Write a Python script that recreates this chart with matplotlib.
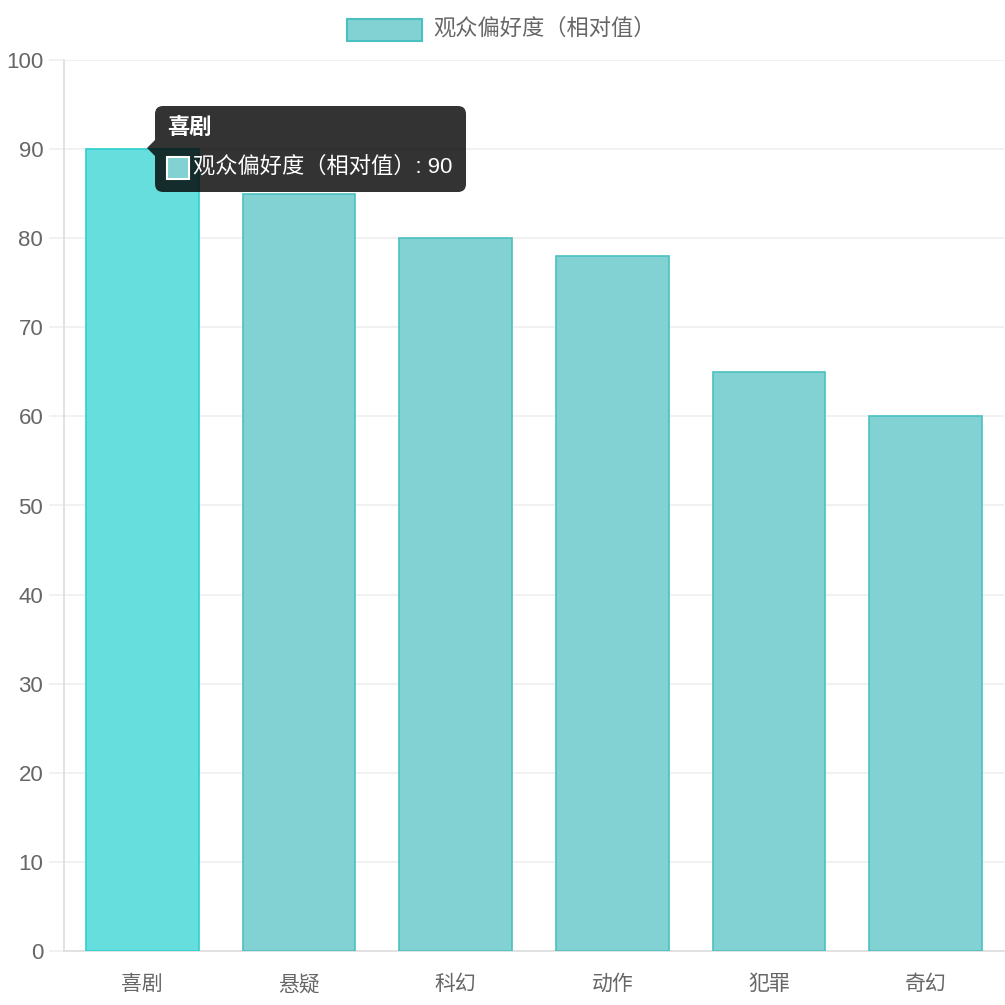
import matplotlib.pyplot as plt
from matplotlib.patches import FancyBboxPatch, Rectangle, Polygon

plt.rcParams['font.family'] = ['Liberation Sans', 'Noto Sans CJK SC', 'DejaVu Sans']

genres = ['喜剧', '悬疑', '科幻', '动作', '犯罪', '奇幻']
scores = [90, 85, 80, 78, 65, 60]
series_name = '观众偏好度（相对值）'
y_ticks = [0, 10, 20, 30, 40, 50, 60, 70, 80, 90, 100]

W = H = 1005


def fx(x):
    return x / W


def fy(y):
    return 1 - y / H


fig = plt.figure(figsize=(10.05, 10.05), dpi=100)
ax = fig.add_axes([fx(64), fy(951), (1004 - 64) / W, (951 - 60) / H])

colors = ['#66dede'] + ['#82d2d3'] * (len(genres) - 1)
edges = ['#2fcfcf'] + ['#4bc0c0'] * (len(genres) - 1)
ax.bar(range(len(genres)), scores, width=0.72, color=colors,
       edgecolor=edges, linewidth=1.2, zorder=3)

ax.set_xlim(-0.5, len(genres) - 0.5)
ax.set_ylim(0, 100)
ax.set_yticks(y_ticks)
ax.set_xticks(range(len(genres)))
ax.set_xticklabels(genres)
ax.yaxis.grid(True, color='#efefef', linewidth=1.2, zorder=0)
ax.tick_params(axis='y', length=11, color='#efefef', width=1.2,
               labelsize=16, labelcolor='#666666', pad=4)
ax.tick_params(axis='x', length=0, labelsize=15, labelcolor='#666666', pad=17)
for s in ['top', 'right']:
    ax.spines[s].set_visible(False)
for s in ['left', 'bottom']:
    ax.spines[s].set_color('#dddddd')
    ax.spines[s].set_linewidth(1.2)
ax.set_axisbelow(True)

# legend at the top
fig.add_artist(Rectangle((fx(347), fy(41)), 75 / W, 22 / H, transform=fig.transFigure,
                         facecolor='#82d2d3', edgecolor='#4bc0c0', linewidth=1.5))
fig.text(fx(433), fy(29), series_name, fontsize=16, color='#666666', va='center', ha='left')

# tooltip over the first bar
fig.add_artist(FancyBboxPatch((fx(155), fy(192)), (466 - 155) / W, (192 - 106) / H,
                              boxstyle='round,pad=0,rounding_size=0.008',
                              transform=fig.transFigure, facecolor=(0, 0, 0, 0.8),
                              edgecolor='none', zorder=10))
fig.add_artist(Polygon([(fx(155), fy(140)), (fx(147), fy(148)), (fx(155), fy(156))],
                       closed=True, transform=fig.transFigure,
                       facecolor=(0, 0, 0, 0.8), edgecolor='none', zorder=10))
fig.text(fx(167), fy(128), genres[0], fontsize=16, fontweight='bold', color='white',
         va='center', ha='left', zorder=11)
fig.add_artist(Rectangle((fx(167), fy(179)), 22 / W, 22 / H, transform=fig.transFigure,
                         facecolor='#82d2d3', edgecolor='white', linewidth=1.5, zorder=11))
fig.text(fx(193), fy(167), f'{series_name}: {scores[0]}', fontsize=16, color='white',
         va='center', ha='left', zorder=11)

fig.savefig('out.png', dpi=100)
